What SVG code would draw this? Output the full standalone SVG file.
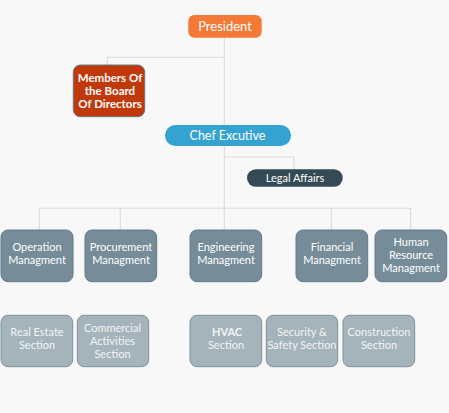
<svg xmlns="http://www.w3.org/2000/svg" width="449" height="413" viewBox="0 0 449 413">
<style>
text{font-family:Lato,"Noto Sans","Liberation Sans",sans-serif;fill:#fff;text-anchor:middle}
.ln{fill:none;stroke:#d6dce1;stroke-width:1.1}
.mg rect{fill:#768d99;stroke:#62798a;stroke-width:1}
.mg text{font-size:11px}
.sc rect{fill:#a5b3ba;stroke:#7d919c;stroke-width:1}
.sc text{font-size:11px;fill:#f2f5f6}
</style>
<rect width="449" height="413" fill="#f8f8f8"/>
<g id="connectors">
<path class="ln" d="M224.3 37.7V125M224.3 57.3H107.3V65"/>
<path class="ln" d="M224.3 146V208.3M224.3 157H294V169.3"/>
<path class="ln" d="M39.3 230V208.3H410.7V230M120.3 208.3V230M224.3 208.3V230M331.3 208.3V230"/>
</g>
<g id="president"><rect x="188.3" y="15" width="73.4" height="22.7" rx="6" fill="#f47836"/><text x="225" y="30.5" font-size="13">President</text></g>
<g id="board"><rect x="73.3" y="65" width="71.4" height="51.7" rx="7" fill="#c1380b" stroke="#5f7a88" stroke-width="1"/><text x="110" y="82" font-size="11.5" font-weight="bold">Members Of</text><text x="110" y="95" font-size="11.5" font-weight="bold">the Board</text><text x="110" y="108" font-size="11.5" font-weight="bold">Of Directors</text></g>
<g id="chef"><rect x="165" y="125" width="126" height="21" rx="10.5" fill="#35a3d2"/><text x="227.5" y="139.5" font-size="12.5">Chef Excutive</text></g>
<g id="legal"><rect x="247" y="169.3" width="95.7" height="17.4" rx="8.7" fill="#344a55"/><text x="295" y="182" font-size="11">Legal Affairs</text></g>
<g id="operation" class="mg"><rect x="1" y="230" width="72" height="51.7" rx="7"/><text x="37" y="251">Operation</text><text x="37" y="264">Managment</text></g>
<g id="procurement" class="mg"><rect x="85" y="230" width="71.7" height="51.7" rx="7"/><text x="121" y="251">Procurement</text><text x="121" y="264">Managment</text></g>
<g id="engineering" class="mg"><rect x="190" y="230" width="71.7" height="51.7" rx="7"/><text x="226" y="251">Engineering</text><text x="226" y="264">Managment</text></g>
<g id="financial" class="mg"><rect x="296" y="230" width="71.7" height="51.7" rx="7"/><text x="332" y="251">Financial</text><text x="332" y="264">Managment</text></g>
<g id="hr" class="mg"><rect x="375" y="230" width="71.7" height="51.7" rx="7"/><text x="411" y="245.5">Human</text><text x="411" y="258.5">Resource</text><text x="411" y="271.5">Managment</text></g>
<g id="realestate" class="sc"><rect x="1" y="315.3" width="71.7" height="51.4" rx="7"/><text x="37" y="336">Real Estate</text><text x="37" y="349">Section</text></g>
<g id="commercial" class="sc"><rect x="77.3" y="315.3" width="71.4" height="51.4" rx="7"/><text x="112.5" y="332">Commercial</text><text x="112.5" y="345">Activities</text><text x="112.5" y="358">Section</text></g>
<g id="hvac" class="sc"><rect x="190" y="315.3" width="71.7" height="51.4" rx="7"/><text x="227" y="336" font-weight="bold">HVAC</text><text x="226" y="349">Section</text></g>
<g id="security" class="sc"><rect x="266.3" y="315.3" width="71.4" height="51.4" rx="7"/><text x="302" y="336">Security &amp;</text><text x="302" y="349">Safety Section</text></g>
<g id="construction" class="sc"><rect x="343" y="315.3" width="71.7" height="51.4" rx="7"/><text x="379" y="336">Construction</text><text x="379" y="349">Section</text></g>
</svg>
